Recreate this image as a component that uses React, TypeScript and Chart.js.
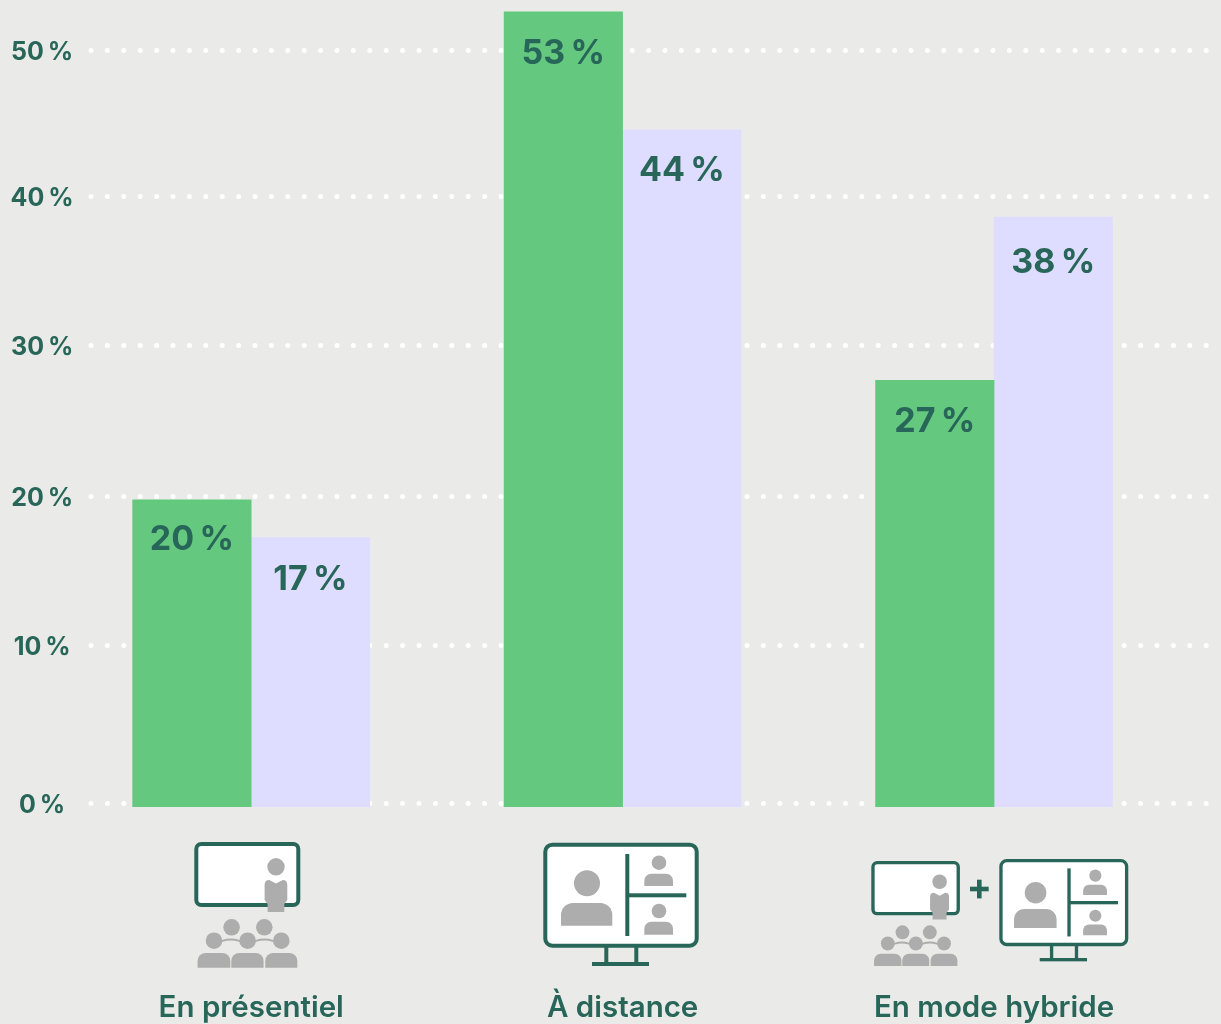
import React, { useEffect, useRef } from "react";
import { Chart, registerables } from "chart.js";

Chart.register(...registerables);

const categories = ["En présentiel", "À distance", "En mode hybride"];
const positions = [1, 2, 3];
const greenValues = [20.3, 52.55, 28.2];
const lilacValues = [17.8, 44.75, 39];
const greenLabels = ["20\u2009%", "53\u2009%", "27\u2009%"];
const lilacLabels = ["17\u2009%", "44\u2009%", "38\u2009%"];
const tickValues = [0.2, 10.7, 20.55, 30.5, 40.35, 50];
const tickLabels = ["0\u2009%", "10\u2009%", "20\u2009%", "30\u2009%", "40\u2009%", "50\u2009%"];

const BG = "#EAEAE8";
const GREEN = "#64C97F";
const LILAC = "#DEDCFF";
const DARK = "#276658";
const GRAY = "#ADADAD";
const FONT = "Inter";
const LABEL_DROP = [
  [39.5, 41.5, 41.5],
  [42.5, 41, 45.5],
];

function topRound(ctx: CanvasRenderingContext2D, x: number, y: number, w: number, h: number, r: number) {
  ctx.beginPath();
  ctx.roundRect(x, y, w, h, [r, r, 0, 0]);
  ctx.fill();
}
function circle(ctx: CanvasRenderingContext2D, x: number, y: number, r: number) {
  ctx.beginPath();
  ctx.arc(x, y, r, 0, Math.PI * 2);
  ctx.fill();
}

function drawClassroom(ctx: CanvasRenderingContext2D, ox: number, oy: number, s: number) {
  ctx.save();
  ctx.translate(ox, oy);
  ctx.scale(s, s);
  ctx.fillStyle = "#FFFFFF";
  ctx.strokeStyle = DARK;
  ctx.lineWidth = 4;
  ctx.beginPath();
  ctx.roundRect(2, 2, 102, 61, 5);
  ctx.fill();
  ctx.stroke();
  ctx.fillStyle = GRAY;
  circle(ctx, 81.7, 24.8, 8.7);
  ctx.beginPath();
  ctx.moveTo(70.3, 43);
  ctx.quadraticCurveTo(70.3, 38, 75, 38);
  ctx.lineTo(81.7, 41.5);
  ctx.lineTo(88.5, 38);
  ctx.quadraticCurveTo(93, 38, 93, 43);
  ctx.lineTo(93, 58);
  ctx.lineTo(90, 62);
  ctx.lineTo(90, 70);
  ctx.lineTo(73.3, 70);
  ctx.lineTo(73.3, 62);
  ctx.lineTo(70.3, 58);
  ctx.closePath();
  ctx.fill();
  [[37.3, 85.3], [70, 85.3], [19.7, 98.7], [53.3, 98.7], [87, 98.7]].forEach(([x, y]) => circle(ctx, x, y, 8.3));
  ctx.strokeStyle = GRAY;
  ctx.lineWidth = 2.2;
  ctx.beginPath();
  ctx.moveTo(19.7, 103);
  ctx.quadraticCurveTo(36.5, 92, 53.3, 103);
  ctx.quadraticCurveTo(70, 92, 87, 103);
  ctx.stroke();
  topRound(ctx, 3.3, 111, 32.7, 14.7, 8);
  topRound(ctx, 37, 111, 32.3, 14.7, 8);
  topRound(ctx, 71, 111, 32, 14.7, 8);
  ctx.restore();
}

function drawMonitor(ctx: CanvasRenderingContext2D, ox: number, oy: number, s: number) {
  ctx.save();
  ctx.translate(ox, oy);
  ctx.scale(s, s);
  ctx.fillStyle = "#FFFFFF";
  ctx.strokeStyle = DARK;
  ctx.lineWidth = 4;
  ctx.beginPath();
  ctx.roundRect(2, 2, 151.4, 101, 7);
  ctx.fill();
  ctx.stroke();
  ctx.fillStyle = DARK;
  ctx.fillRect(61, 104, 4, 17);
  ctx.fillRect(91, 104, 4, 17);
  ctx.fillRect(48.7, 119.3, 57, 4);
  ctx.fillRect(82, 11.3, 4, 82);
  ctx.fillRect(84, 50.6, 59, 4);
  ctx.fillStyle = GRAY;
  circle(ctx, 43.7, 40.6, 13);
  topRound(ctx, 17.7, 60.3, 51.3, 22.7, 12);
  circle(ctx, 115.7, 20, 7.3);
  topRound(ctx, 101, 31, 28.7, 12.3, 7);
  circle(ctx, 115.7, 68.3, 7.3);
  topRound(ctx, 101, 79, 28.7, 13, 7);
  ctx.restore();
}

const roundCaps = {
  id: "roundCaps",
  beforeDraw(chart: any) {
    chart.ctx.lineCap = "round";
  },
  afterDraw(chart: any) {
    chart.ctx.lineCap = "butt";
  },
};

const decorations = {
  id: "decorations",
  afterDatasetsDraw(chart: any) {
    const ctx: CanvasRenderingContext2D = chart.ctx;
    ctx.save();
    ctx.lineCap = "butt";
    ctx.font = `700 34px ${FONT}`;
    ctx.fillStyle = DARK;
    ctx.textAlign = "center";
    ctx.textBaseline = "middle";
    [greenLabels, lilacLabels].forEach((labels, d) => {
      chart.getDatasetMeta(d).data.forEach((bar: any, i: number) => {
        ctx.fillText(labels[i], bar.x, bar.y + LABEL_DROP[d][i]);
      });
    });
    drawClassroom(ctx, 194.3, 842, 1);
    drawMonitor(ctx, 543.3, 842.7, 1);
    drawClassroom(ctx, 871.3, 861, 0.836);
    drawMonitor(ctx, 999.3, 859, 0.83);
    ctx.fillStyle = DARK;
    ctx.fillRect(970, 886.7, 18.7, 4.6);
    ctx.fillRect(977, 879.7, 4.6, 18.7);
    ctx.restore();
  },
};

export default function App() {
  const ref = useRef<HTMLCanvasElement>(null);
  useEffect(() => {
    document.body.style.margin = "0";
    document.body.style.background = BG;
    const chart = new Chart(ref.current!, {
      type: "bar",
      data: {
        datasets: [
          { label: "Vert", data: positions.map((x, i) => ({ x, y: greenValues[i] })), backgroundColor: GREEN, barThickness: 118.5 },
          { label: "Lilas", data: positions.map((x, i) => ({ x, y: lilacValues[i] })), backgroundColor: LILAC, barThickness: 118.5 },
        ],
      },
      options: {
        responsive: false,
        animation: false,
        layout: { padding: 0 },
        plugins: { legend: { display: false }, tooltip: { enabled: false } },
        scales: {
          x: {
            type: "linear",
            offset: false,
            min: 0.568,
            max: 3.611,
            grid: { display: false, offset: false },
            border: { display: false },
            afterBuildTicks(scale: any) {
              scale.ticks = positions.map((value) => ({ value }));
            },
            afterFit(scale: any) {
              scale.height = 217;
              scale.paddingLeft = 0;
              scale.paddingRight = 0;
            },
            ticks: {
              autoSkip: false,
              maxRotation: 0,
              padding: 175,
              color: DARK,
              font: { family: FONT, size: 29.5, weight: "600" },
              callback: (v: any) => categories[positions.indexOf(v)],
            },
          },
          y: {
            type: "linear",
            min: 0,
            max: 53.34,
            grid: { color: "#FFFFFF", lineWidth: 5, drawTicks: false },
            border: { display: false, dash: [0.01, 16.39] },
            afterBuildTicks(scale: any) {
              scale.ticks = tickValues.map((value) => ({ value }));
            },
            afterFit(scale: any) {
              scale.width = 90.7;
              scale.paddingTop = 0;
              scale.paddingBottom = 0;
            },
            ticks: {
              autoSkip: false,
              padding: 17,
              labelOffset: 2,
              crossAlign: "center",
              color: DARK,
              font: { family: FONT, size: 25, weight: "700" },
              callback: (v: any) => tickLabels[tickValues.indexOf(v)],
            },
          },
        },
      },
      plugins: [roundCaps, decorations],
    } as any);
    return () => chart.destroy();
  }, []);
  return (
    <div style={{ width: 1221, height: 1024, background: BG, overflow: "hidden" }}>
      <canvas ref={ref} width={1221} height={1024} style={{ display: "block" }} />
    </div>
  );
}
